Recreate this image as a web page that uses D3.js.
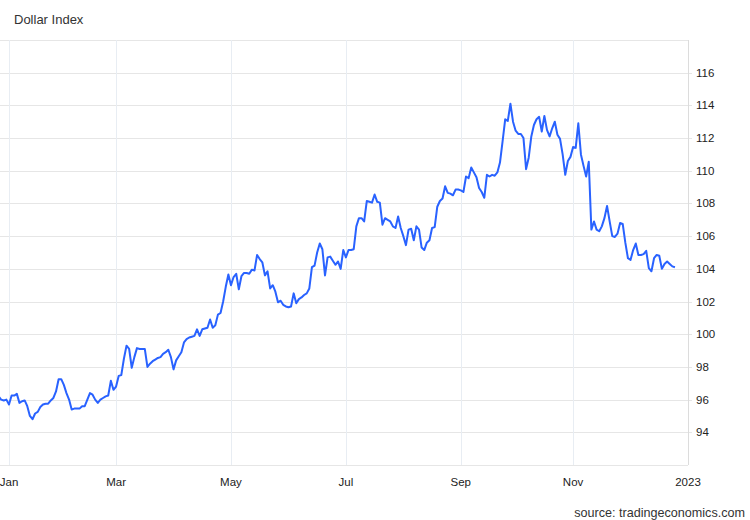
<!DOCTYPE html>
<html>
<head>
<meta charset="utf-8">
<script src="https://cdn.jsdelivr.net/npm/d3@7"></script>
<style>
  body { margin: 0; background: #fff; }
  svg { display: block; font-family: "Liberation Sans", Arial, sans-serif; }
</style>
</head>
<body>
<svg id="chart" width="750" height="520"></svg>
<script>
// daily closes (weekdays) starting 2021-12-28
var firstDay = "2021-12-28";
var closes = [
  96.2, 96.0, 95.95, 96.0,
  95.7, 96.25, 96.25, 96.35, 95.8, 95.9, 95.95, 95.6, 95.0, 94.8,
  95.15, 95.25, 95.55, 95.7, 95.75, 95.75, 95.95, 96.1, 96.5, 97.25,
  97.25, 96.9, 96.4, 96.0, 95.4, 95.45, 95.45, 95.45, 95.6, 95.6,
  96.0, 96.4, 96.3, 96.0, 95.8, 96.0, 96.1, 96.2, 96.25, 97.15,
  96.6, 96.8, 97.45, 97.5, 98.5, 99.3, 99.1, 97.95, 98.6, 99.15,
  99.1, 99.1, 99.1, 98.0, 98.2, 98.35, 98.45, 98.55, 98.6, 98.8,
  98.9, 99.05, 98.6, 97.85, 98.4, 98.65, 98.9, 99.5, 99.7, 99.8,
  99.85, 99.9, 100.3, 99.9, 100.3, 100.35, 100.4, 100.9, 100.4, 100.55,
  101.2, 101.3, 102.0, 102.9, 103.65, 103.0, 103.5, 103.7, 102.75, 103.55,
  103.75, 103.75, 103.7, 103.95, 103.9, 104.85, 104.6, 104.4, 103.6, 103.85,
  102.8, 103.0, 102.6, 101.95, 102.05, 101.8, 101.7, 101.65, 101.7, 102.5,
  101.9, 102.15, 102.25, 102.4, 102.5, 102.8, 104.1, 104.2, 105.0, 105.55,
  105.2, 103.6, 104.7, 104.75, 104.5, 104.25, 104.45, 104.0, 105.15, 104.7,
  105.15, 105.15, 105.2, 106.6, 107.1, 107.1, 106.9, 108.15, 108.1, 108.05,
  108.55, 108.1, 108.05, 106.7, 107.1, 107.0, 106.9, 106.6, 106.5, 107.2,
  106.5, 106.0, 105.45, 106.4, 106.45, 105.75, 106.6, 106.4, 105.3, 105.15,
  105.6, 105.75, 106.5, 106.55, 107.8, 108.15, 108.3, 109.05, 108.65, 108.6,
  108.5, 108.85, 108.85, 108.8, 108.7, 109.65, 109.55, 110.2, 109.9, 109.6,
  108.95, 108.7, 108.35, 109.75, 109.65, 109.75, 109.7, 109.9, 110.5, 111.8,
  113.15, 113.05, 114.1, 113.0, 112.45, 112.25, 112.25, 112.0, 110.1, 110.8,
  112.1, 112.8, 113.15, 113.3, 112.4, 113.35, 112.5, 112.1, 112.6, 113.0,
  112.2, 111.95, 111.0, 109.75, 110.6, 110.85, 111.45, 111.4, 112.9, 111.0,
  110.3, 109.65, 110.55, 106.4, 106.9, 106.4, 106.3, 106.6, 107.1, 107.85,
  106.9, 106.0, 105.95, 106.15, 106.8, 106.75, 105.6, 104.65, 104.55, 105.15,
  105.55, 104.85, 104.85, 104.9, 105.1, 104.05, 103.85, 104.65, 104.85, 104.8,
  104.0, 104.3, 104.45, 104.3, 104.15, 104.1
];
var yTicks = [94, 96, 98, 100, 102, 104, 106, 108, 110, 112, 114, 116];
var yDomain = [92, 118];
var monthTicks = ["2022-01-01", "2022-03-01", "2022-05-01", "2022-07-01", "2022-09-01", "2022-11-01", "2023-01-01"];
var xStart = "2022-01-01", xEnd = "2023-01-01";

var parse = d3.utcParse("%Y-%m-%d");
var baseMonday = parse("2021-12-27");

// position on a weekday-only axis (weekends collapse)
function weekdayIndex(d) {
  var days = d3.utcDay.count(baseMonday, d);
  return Math.floor(days / 7) * 5 + Math.min(days % 7, 5) - 5;
}

var dates = d3.utcDay.range(parse(firstDay), d3.utcDay.offset(parse(firstDay), 400))
  .filter(function(d) { return d.getUTCDay() % 6 != 0; })
  .slice(0, closes.length);
var data = closes.map(function(v, i) { return { date: dates[i], value: v }; });

var svg = d3.select("#chart");
var plotLeft = 0, plotRight = 688, plotTop = 40, plotBottom = 465;

var x = d3.scaleLinear()
  .domain([weekdayIndex(parse(xStart)), weekdayIndex(parse(xEnd))])
  .range([9, plotRight]);
var y = d3.scaleLinear().domain(yDomain).range([plotBottom, plotTop]);

// horizontal grid
svg.append("g").selectAll("line")
  .data(yTicks.concat(yDomain))
  .enter().append("line")
  .attr("x1", plotLeft)
  .attr("x2", function(d) { return (d == yDomain[0] || d == yDomain[1]) ? plotRight : plotRight + 4; })
  .attr("y1", function(d) { return Math.round(y(d)) + 0.5; })
  .attr("y2", function(d) { return Math.round(y(d)) + 0.5; })
  .attr("stroke", "#e6e6e6")
  .attr("stroke-width", 1);

// vertical grid
svg.append("g").selectAll("line")
  .data(monthTicks.slice(0, -1))
  .enter().append("line")
  .attr("x1", function(d) { return Math.round(x(weekdayIndex(parse(d)))) + 0.5; })
  .attr("x2", function(d) { return Math.round(x(weekdayIndex(parse(d)))) + 0.5; })
  .attr("y1", plotTop).attr("y2", plotBottom)
  .attr("stroke", "#e8edf3");

// right axis line
svg.append("line")
  .attr("x1", plotRight + 0.5).attr("x2", plotRight + 0.5)
  .attr("y1", plotTop).attr("y2", plotBottom)
  .attr("stroke", "#dcdcdc");

// y labels
svg.append("g").selectAll("text")
  .data(yTicks)
  .enter().append("text")
  .attr("x", 696)
  .attr("y", function(d) { return y(d); })
  .attr("dy", "0.35em")
  .attr("font-size", "11.5px")
  .attr("fill", "#222")
  .text(function(d) { return d; });

// x labels
var fmt = function(d) {
  var dt = parse(d);
  return (dt.getUTCMonth() == 0 && dt.getUTCFullYear() > 2022) ? d3.utcFormat("%Y")(dt) : d3.utcFormat("%b")(dt);
};
svg.append("g").selectAll("text")
  .data(monthTicks)
  .enter().append("text")
  .attr("x", function(d) { return x(weekdayIndex(parse(d))); })
  .attr("y", 486)
  .attr("text-anchor", "middle")
  .attr("font-size", "11.5px")
  .attr("fill", "#222")
  .text(fmt);

// line
svg.append("clipPath").attr("id", "plot-clip")
  .append("rect").attr("x", plotLeft).attr("y", plotTop)
  .attr("width", plotRight - plotLeft).attr("height", plotBottom - plotTop);

var line = d3.line()
  .x(function(d) { return x(weekdayIndex(d.date)); })
  .y(function(d) { return y(d.value); });

svg.append("path")
  .datum(data)
  .attr("clip-path", "url(#plot-clip)")
  .attr("d", line)
  .attr("fill", "none")
  .attr("stroke", "#2962ff")
  .attr("stroke-width", 2)
  .attr("stroke-linejoin", "round");

// title and source
svg.append("text")
  .attr("x", 14).attr("y", 24)
  .attr("font-size", "13px")
  .attr("fill", "#333")
  .text("Dollar Index");

svg.append("text")
  .attr("x", 745).attr("y", 517)
  .attr("text-anchor", "end")
  .attr("font-size", "12.6px")
  .attr("fill", "#333")
  .text("source: tradingeconomics.com");
</script>
</body>
</html>
